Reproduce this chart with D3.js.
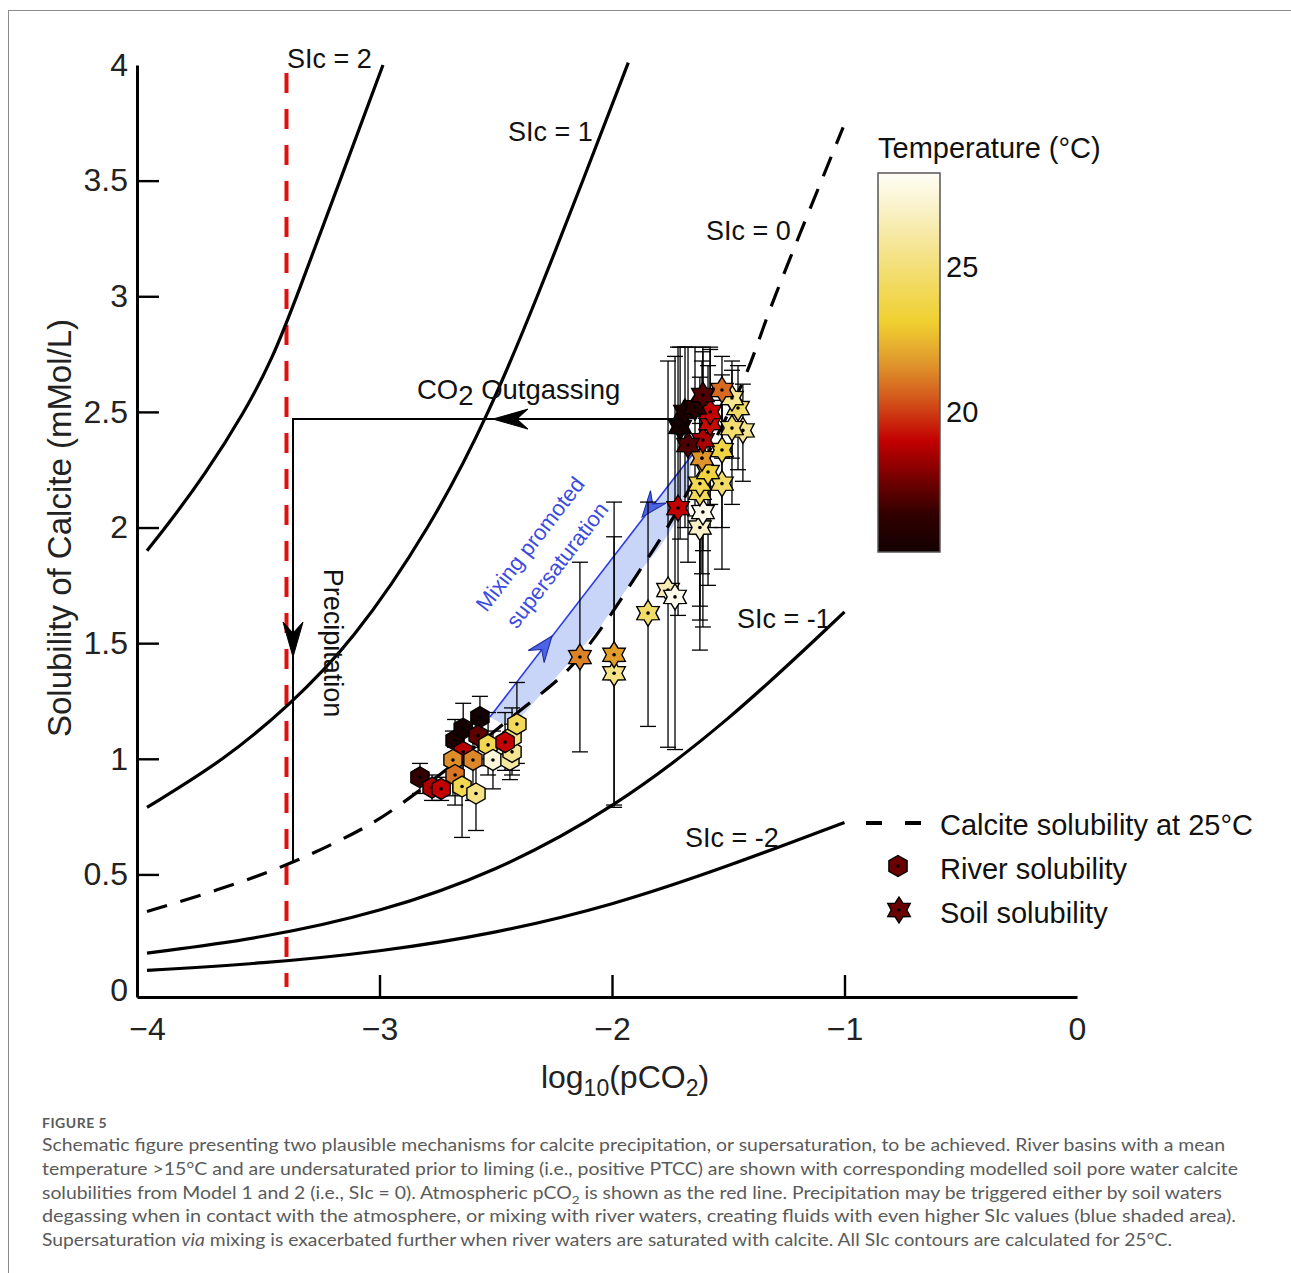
<!DOCTYPE html>
<html>
<head>
<meta charset="utf-8">
<script src="https://cdn.jsdelivr.net/npm/d3@7"></script>
<style>
  body { margin: 0; background: #fff; }
  svg { display: block; }
  text { font-family: "Liberation Sans", Arial, Helvetica, sans-serif; }
  .caption { font-family: Lato, "Open Sans", sans-serif; fill: #5a5a5a; }
</style>
</head>
<body>
<div id="chart"></div>
<script>
// SIc contours: [log10(pCO2), solubility mMol/L]
const sicPlus2 = [[-4.0, 1.90], [-3.92, 2.0], [-3.75, 2.23], [-3.58, 2.50], [-3.46, 2.73], [-3.355, 3.0], [-3.17, 3.5], [-2.985, 4.0]];
const sicPlus1 = [[-4.0, 0.79], [-3.66, 1.0], [-3.39, 1.23], [-3.12, 1.5], [-2.78, 2.0], [-2.525, 2.5], [-2.32, 3.0], [-2.125, 3.5], [-1.93, 4.01]];
const sicZero = [[-4.0, 0.34], [-3.7, 0.43], [-3.39, 0.54], [-3.1, 0.68], [-2.91, 0.79], [-2.32, 1.27], [-2.18, 1.38], [-2.01, 1.61], [-1.88, 1.82], [-1.74, 2.02], [-1.42, 2.64], [-1.36, 2.85], [-1.18, 3.30], [-1.006, 3.73]];
const sicMinus1 = [[-4.0, 0.16], [-3.5, 0.225], [-3.0, 0.335], [-2.5, 0.51], [-2.0, 0.78], [-1.5, 1.16], [-1.0, 1.635]];
const sicMinus2 = [[-4.0, 0.085], [-3.5, 0.115], [-3.0, 0.165], [-2.5, 0.245], [-2.0, 0.365], [-1.5, 0.535], [-1.0, 0.725]];

const atmosPCO2 = -3.4;
const atmosSpan = [3.965, 0.013];

// arrows / mixing band
const outgasPath = [[-1.707, 2.469], [-3.372, 2.469], [-3.372, 0.549]];
const outgasHeads = [[-2.512, 2.469, -1.707, 2.469], [-3.372, 1.44, -3.372, 2.469]];
const mixLine = [[-2.525, 1.181], [-1.656, 2.314]];
const mixHeads = [[-2.258, 1.531, -2.525, 1.181], [-1.871, 2.045, -1.656, 2.314]];
const mixBand = [[-2.525, 1.181], [-1.656, 2.314], [-1.665, 2.20], [-1.72, 2.032], [-1.794, 1.916], [-1.910, 1.773], [-2.052, 1.570], [-2.224, 1.371], [-2.396, 1.176], [-2.47, 1.15]];

// river points: [log10 pCO2, solubility, low, high, temperature]
const river = [
  [-2.826, 0.92, 0.85, 0.98, 16.5],
  [-2.774, 0.875, 0.82, 0.93, 18.6],
  [-2.735, 0.87, 0.82, 0.92, 19.0],
  [-2.675, 1.08, 0.95, 1.17, 15.6],
  [-2.64, 1.13, 1.0, 1.24, 15.3],
  [-2.568, 1.18, 1.05, 1.27, 15.2],
  [-2.64, 1.03, 0.9, 1.14, 18.8],
  [-2.576, 1.10, 0.97, 1.2, 17.3],
  [-2.684, 0.995, 0.84, 1.12, 21.5],
  [-2.675, 0.93, 0.8, 1.05, 21.0],
  [-2.598, 0.995, 0.82, 1.1, 21.4],
  [-2.645, 0.88, 0.66, 1.05, 24.0],
  [-2.585, 0.85, 0.69, 1.0, 25.3],
  [-2.533, 1.06, 0.93, 1.2, 24.0],
  [-2.512, 0.995, 0.87, 1.12, 27.5],
  [-2.439, 0.995, 0.91, 1.1, 26.0],
  [-2.43, 1.03, 0.93, 1.15, 25.6],
  [-2.43, 1.094, 0.95, 1.22, 25.3],
  [-2.409, 1.15, 0.98, 1.33, 24.2],
  [-2.46, 1.072, 0.95, 1.2, 19.0]
];

// soil points: [log10 pCO2, solubility, low, high, temperature]
const soil = [
  [-2.138, 1.44, 1.03, 1.85, 21.3],
  [-1.991, 1.37, 0.80, 1.96, 25.3],
  [-1.991, 1.45, 0.79, 2.11, 21.8],
  [-1.845, 1.63, 1.14, 2.11, 24.6],
  [-1.759, 1.73, 1.05, 2.72, 26.5],
  [-1.729, 1.70, 1.04, 2.74, 28.0],
  [-1.716, 2.084, 1.62, 2.78, 19.0],
  [-1.622, 2.0, 1.47, 2.45, 27.0],
  [-1.609, 2.067, 1.57, 2.55, 28.0],
  [-1.622, 2.15, 1.6, 2.6, 24.2],
  [-1.622, 2.19, 1.66, 2.65, 24.0],
  [-1.527, 2.19, 1.82, 2.55, 24.6],
  [-1.587, 2.24, 1.75, 2.7, 23.5],
  [-1.613, 2.30, 1.8, 2.72, 21.6],
  [-1.527, 2.335, 2.0, 2.66, 23.6],
  [-1.437, 2.42, 2.2, 2.62, 25.6],
  [-1.484, 2.43, 2.1, 2.68, 24.8],
  [-1.458, 2.517, 2.25, 2.7, 24.5],
  [-1.484, 2.56, 2.3, 2.72, 25.6],
  [-1.527, 2.595, 2.3, 2.74, 20.8],
  [-1.609, 2.378, 1.9, 2.76, 18.6],
  [-1.673, 2.357, 1.85, 2.78, 17.0],
  [-1.578, 2.452, 2.0, 2.78, 19.2],
  [-1.578, 2.50, 2.1, 2.77, 19.0],
  [-1.707, 2.435, 1.95, 2.78, 15.3],
  [-1.686, 2.50, 2.0, 2.78, 15.5],
  [-1.643, 2.52, 2.05, 2.78, 16.0],
  [-1.609, 2.573, 2.2, 2.78, 17.0]
];

const xTicks = [-4, -3, -2, -1, 0];
const yTicks = [0, 0.5, 1, 1.5, 2, 2.5, 3, 3.5, 4];
const tempStops = [15.17, 16.5, 17.6, 19.0, 20.5, 21.7, 23.1, 25.0, 26.9, 28.24];
const tempColors = ["#120000", "#330000", "#700000", "#c20000", "#d45a1c", "#e0982c", "#f0d030", "#f3df78", "#f9f0c4", "#fffef6"];
const cbarTicks = [20, 25];

const captionLines = [
  "Schematic figure presenting two plausible mechanisms for calcite precipitation, or supersaturation, to be achieved. River basins with a mean",
  "temperature >15°C and are undersaturated prior to liming (i.e., positive PTCC) are shown with corresponding modelled soil pore water calcite",
  ["solubilities from Model 1 and 2 (i.e., SIc = 0). Atmospheric pCO", "2", " is shown as the red line. Precipitation may be triggered either by soil waters"],
  "degassing when in contact with the atmosphere, or mixing with river waters, creating fluids with even higher SIc values (blue shaded area).",
  ["Supersaturation ", "via", " mixing is exacerbated further when river waters are saturated with calcite. All SIc contours are calculated for 25°C."]
];
const captionWidths = [1183, 1196, 1180, 1194, 1130];

const W = 1291, H = 1273;
const svg = d3.select("#chart").append("svg").attr("width", W).attr("height", H);
svg.append("rect").attr("width", W).attr("height", H).attr("fill", "#fff");
svg.append("rect").attr("x", 8.5).attr("y", 10.5).attr("width", 1290).attr("height", 1272)
  .attr("fill", "none").attr("stroke", "#8a8a8a");

const x = d3.scaleLinear().domain([-4.043, 0]).range([137, 1077]);
const y = d3.scaleLinear().domain([-0.03, 4]).range([997, 65]);
const color = d3.scaleLinear().domain(tempStops).range(tempColors).clamp(true);
const curve = d3.line().x(d => x(d[0])).y(d => y(d[1])).curve(d3.curveBasis);
const straight = d3.line().x(d => x(d[0])).y(d => y(d[1]));

// mixing band
svg.append("path").attr("d", straight(mixBand) + "Z").attr("fill", "#c8d5f8");

// atmospheric pCO2
svg.append("path")
  .attr("d", straight([[atmosPCO2, atmosSpan[0]], [atmosPCO2, atmosSpan[1]]]))
  .attr("stroke", "#e01010").attr("stroke-width", 4).attr("stroke-dasharray", "20,16");

// contours
[sicPlus2, sicPlus1, sicMinus1, sicMinus2].forEach(c => {
  svg.append("path").attr("d", curve(c)).attr("fill", "none")
    .attr("stroke", "#000").attr("stroke-width", 3.2);
});
svg.append("path").attr("d", curve(sicZero)).attr("fill", "none")
  .attr("stroke", "#000").attr("stroke-width", 3.2).attr("stroke-dasharray", "21,14");

function head(g, h, len, half, notch, fill, stroke) {
  const px = x(h[0]), py = y(h[1]);
  const a = Math.atan2(py - y(h[3]), px - x(h[2])) * 180 / Math.PI;
  g.append("path")
    .attr("d", `M0,0L${-len},${-half}L${-notch},0L${-len},${half}Z`)
    .attr("transform", `translate(${px},${py}) rotate(${a})`)
    .attr("fill", fill).attr("stroke", stroke).attr("stroke-width", 1);
}

// CO2 outgassing / precipitation path
svg.append("path").attr("d", straight(outgasPath)).attr("fill", "none")
  .attr("stroke", "#000").attr("stroke-width", 2);
outgasHeads.forEach(h => head(svg, h, 35, 10, 24, "#000", "#000"));

// mixing line
svg.append("path").attr("d", straight(mixLine)).attr("stroke", "#2b3bdf").attr("stroke-width", 1.6);
mixHeads.forEach(h => head(svg, h, 26, 10, 17, "#4d63e6", "#1d2a9a"));

// error bars
const bars = svg.append("g").attr("stroke", "#000").attr("stroke-width", 1.3);
river.concat(soil).forEach(d => {
  const cx = x(d[0]);
  bars.append("line").attr("x1", cx).attr("x2", cx).attr("y1", y(d[2])).attr("y2", y(d[3]));
  [d[2], d[3]].forEach(v => bars.append("line")
    .attr("x1", cx - 8).attr("x2", cx + 8).attr("y1", y(v)).attr("y2", y(v)));
});

function starPath(ro, ri) {
  return d3.lineRadial().curve(d3.curveLinearClosed)(d3.range(12).map(i => [i * Math.PI / 6, i % 2 ? ri : ro]));
}
function hexPath(r) {
  return d3.lineRadial().curve(d3.curveLinearClosed)(d3.range(6).map(i => [i * Math.PI / 3, r]));
}

// markers
const marks = svg.append("g");
river.forEach(d => {
  const g = marks.append("g").attr("transform", `translate(${x(d[0])},${y(d[1])})`);
  g.append("path").attr("d", hexPath(10.5)).attr("fill", color(d[4])).attr("stroke", "#000").attr("stroke-width", 1.4);
  g.append("circle").attr("r", 1.8).attr("fill", "#000");
});
soil.forEach(d => {
  const g = marks.append("g").attr("transform", `translate(${x(d[0])},${y(d[1])})`);
  g.append("path").attr("d", starPath(13, 7.8)).attr("fill", color(d[4])).attr("stroke", "#000").attr("stroke-width", 1.4);
  g.append("circle").attr("r", 1.8).attr("fill", "#000");
});

// axes
const fmt = d => d < 0 ? "\u2212" + (-d) : String(d);
const gx = svg.append("g").attr("transform", `translate(0,${y.range()[0]})`)
  .call(d3.axisBottom(x).tickValues(xTicks).tickFormat(fmt).tickSizeInner(-22).tickSizeOuter(0).tickPadding(20));
const gy = svg.append("g").attr("transform", `translate(${x.range()[0]},0)`)
  .call(d3.axisLeft(y).tickValues(yTicks).tickFormat(fmt).tickSizeInner(-22).tickSizeOuter(0).tickPadding(9));
[gx, gy].forEach(g => {
  g.select(".domain").attr("stroke-width", 3);
  g.selectAll(".tick line").attr("stroke-width", 2.4);
  g.selectAll(".tick text").attr("font-size", 32).attr("fill", "#222")
    .style("font-family", '"Liberation Sans", Arial, sans-serif');
});
gx.selectAll(".tick").filter(d => d === -4 || d === 0).select("line").remove();
gy.selectAll(".tick").filter(d => d === 0 || d === 4).select("line").remove();

svg.append("text").attr("transform", "translate(71,528) rotate(-90)")
  .attr("text-anchor", "middle").attr("font-size", 33).attr("fill", "#222")
  .text("Solubility of Calcite (mMol/L)");
const xl = svg.append("text").attr("x", 625).attr("y", 1088).attr("text-anchor", "middle")
  .attr("font-size", 32).attr("fill", "#222");
xl.append("tspan").text("log");
xl.append("tspan").attr("font-size", 23).attr("dy", 8).text("10");
xl.append("tspan").attr("dy", -8).text("(pCO");
xl.append("tspan").attr("font-size", 23).attr("dy", 8).text("2");
xl.append("tspan").attr("dy", -8).text(")");

// contour labels
const labels = [["SIc = 2", 287, 68], ["SIc = 1", 508, 141], ["SIc = 0", 706, 240], ["SIc = -1", 737, 628], ["SIc = -2", 685, 847]];
labels.forEach(l => svg.append("text").attr("x", l[1]).attr("y", l[2])
  .attr("font-size", 27).attr("fill", "#111").text(l[0]));

const co = svg.append("text").attr("x", 417).attr("y", 399).attr("font-size", 27.5).attr("fill", "#111");
co.append("tspan").text("CO");
co.append("tspan").attr("dy", 6).text("2");
co.append("tspan").attr("dy", -6).text(" Outgassing");

svg.append("text").attr("transform", "translate(324,643) rotate(90)")
  .attr("text-anchor", "middle").attr("font-size", 27).attr("fill", "#111").text("Precipitation");

svg.append("text").attr("transform", "translate(530,544) rotate(-52.4)").attr("dy", "0.35em")
  .attr("text-anchor", "middle").attr("font-size", 22).attr("fill", "#3b4be0").text("Mixing promoted");
svg.append("text").attr("transform", "translate(557,565) rotate(-52.4)").attr("dy", "0.35em")
  .attr("text-anchor", "middle").attr("font-size", 22).attr("fill", "#3b4be0").text("supersaturation");

// colour bar
const tMin = tempStops[0], tMax = tempStops[tempStops.length - 1];
const defs = svg.append("defs");
const grad = defs.append("linearGradient").attr("id", "tgrad")
  .attr("x1", 0).attr("y1", 1).attr("x2", 0).attr("y2", 0);
tempStops.forEach((t, i) => grad.append("stop")
  .attr("offset", (t - tMin) / (tMax - tMin)).attr("stop-color", tempColors[i]));
const cbar = d3.scaleLinear().domain([tMin, tMax]).range([552, 173]);
svg.append("rect").attr("x", 878).attr("y", cbar(tMax)).attr("width", 62)
  .attr("height", cbar(tMin) - cbar(tMax)).attr("fill", "url(#tgrad)")
  .attr("stroke", "#555").attr("stroke-width", 1.5);
cbarTicks.forEach(t => svg.append("text").attr("x", 946).attr("y", cbar(t) + 10)
  .attr("font-size", 29).attr("fill", "#111").text(t));
svg.append("text").attr("x", 878).attr("y", 158).attr("font-size", 29).attr("fill", "#111")
  .text("Temperature (°C)");

// legend
svg.append("line").attr("x1", 866).attr("x2", 921).attr("y1", 823).attr("y2", 823)
  .attr("stroke", "#000").attr("stroke-width", 4).attr("stroke-dasharray", "16,23");
svg.append("path").attr("d", hexPath(10.5)).attr("transform", "translate(898,866)")
  .attr("fill", "#6b0000").attr("stroke", "#000").attr("stroke-width", 1.4);
svg.append("circle").attr("cx", 898).attr("cy", 866).attr("r", 1.8).attr("fill", "#000");
svg.append("path").attr("d", starPath(13, 7.8)).attr("transform", "translate(899,910)")
  .attr("fill", "#6b0000").attr("stroke", "#000").attr("stroke-width", 1.4);
svg.append("circle").attr("cx", 899).attr("cy", 910).attr("r", 1.8).attr("fill", "#000");
[["Calcite solubility at 25°C", 835], ["River solubility", 879], ["Soil solubility", 923]].forEach(l =>
  svg.append("text").attr("x", 940).attr("y", l[1]).attr("font-size", 29).attr("fill", "#111").text(l[0]));

// caption
svg.append("text").attr("class", "caption").attr("x", 42).attr("y", 1128)
  .attr("font-size", 14).attr("font-weight", 700).attr("letter-spacing", 0.5).attr("fill", "#555").text("FIGURE 5");
captionLines.forEach((ln, i) => {
  const t = svg.append("text").attr("class", "caption").attr("x", 42).attr("y", 1151 + i * 23.8)
    .attr("font-size", 17).attr("textLength", captionWidths[i]).attr("lengthAdjust", "spacingAndGlyphs");
  if (typeof ln === "string") { t.text(ln); return; }
  if (i === 2) {
    t.append("tspan").text(ln[0]);
    t.append("tspan").attr("font-size", 12).attr("dy", 5).text(ln[1]);
    t.append("tspan").attr("dy", -5).text(ln[2]);
  } else {
    t.append("tspan").text(ln[0]);
    t.append("tspan").attr("font-style", "italic").text(ln[1]);
    t.append("tspan").text(ln[2]);
  }
});
</script>
</body>
</html>
